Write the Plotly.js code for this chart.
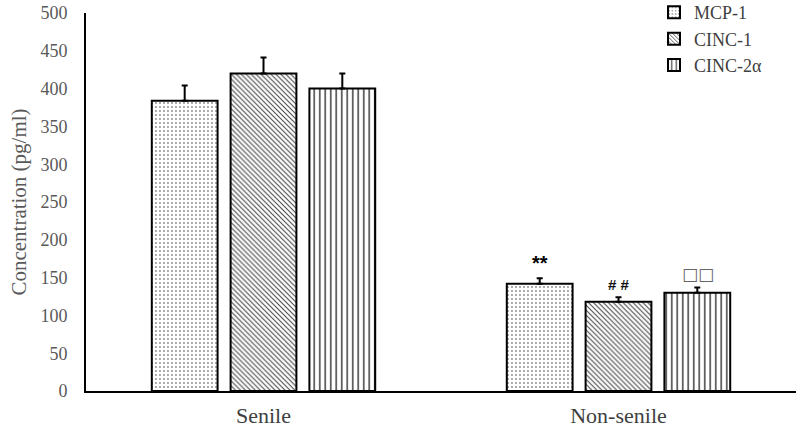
<!DOCTYPE html>
<html><head><meta charset="utf-8">
<script src="https://cdn.plot.ly/plotly-3.0.1.min.js"></script>
<style>html,body{margin:0;padding:0;background:#fff}#chart{width:796px;height:427px}</style>
</head><body><div id="chart"></div>
<script>
var categories = ['Senile', 'Non-senile'];
var seriesNames = ['MCP-1', 'CINC-1', 'CINC-2\u03b1'];
var mcp1 = [384, 142];
var cinc1 = [420, 118];
var cinc2a = [400, 130];
var mcp1Err = [20, 7];
var cinc1Err = [21, 6];
var cinc2aErr = [20, 7];
var sigMarks = ['**', '# #', '\u25a1\u25a1'];
var yTicks = [0, 50, 100, 150, 200, 250, 300, 350, 400, 450, 500];

var values = [mcp1, cinc1, cinc2a];
var errs = [mcp1Err, cinc1Err, cinc2aErr];
var shapes = ['.', '\\', '|'];
var psize = [4, 3.5, 5.5];
var psol = [0.18, 0.3, 0.28];
var pcol = ['#8a8a8a', '#444444', '#444444'];

var traces = values.map(function(v, i){
  return {
    type: 'bar', name: seriesNames[i], x: categories, y: v,
    marker: {color: '#ffffff', line: {color: '#000000', width: 2},
      pattern: {shape: shapes[i], fgcolor: pcol[i], bgcolor: '#ffffff', size: psize[i], solidity: psol[i]}},
    error_y: {type: 'data', symmetric: false, array: errs[i], arrayminus: [0, 0], color: '#000000', thickness: 2, width: 3}
  };
});

var slot = 79;
var markFont = [
  {family: 'Liberation Sans', size: 20, color: '#000000', weight: 'bold'},
  {family: 'Liberation Sans', size: 15, color: '#111111', weight: 'bold'},
  {family: 'DejaVu Sans', size: 17, color: '#666666'}
];
var markShift = [15, 13, 13];
var annotations = sigMarks.map(function(m, i){
  return {x: categories[1], y: values[i][1] + errs[i][1], xref: 'x', yref: 'y',
    text: m, showarrow: false, xshift: (i - 1) * slot, yshift: markShift[i], font: markFont[i]};
});

var layout = {
  width: 796, height: 427,
  margin: {l: 86, r: 0, t: 13, b: 36, autoexpand: false},
  paper_bgcolor: '#ffffff', plot_bgcolor: '#ffffff',
  barmode: 'group', bargap: 0.334, bargroupgap: 0.165,
  font: {family: 'Liberation Serif', color: '#595959', size: 18},
  showlegend: true,
  legend: {x: 0.80, xanchor: 'left', y: 1.05, yanchor: 'top', bgcolor: 'rgba(0,0,0,0)',
    font: {family: 'Liberation Serif', size: 18, color: '#404040'}, tracegroupgap: 0, itemwidth: 30},
  xaxis: {type: 'category', showline: true, linecolor: '#000000', linewidth: 2, ticks: '', showgrid: false,
    zeroline: false, tickfont: {family: 'Liberation Serif', size: 22, color: '#404040'}, ticklabelstandoff: 4},
  yaxis: {range: [0, 500], tickvals: yTicks, ticktext: yTicks.map(String), showline: true, linecolor: '#000000', linewidth: 2,
    ticks: '', showgrid: false, zeroline: false, ticklabelstandoff: 13,
    tickfont: {family: 'Liberation Serif', size: 18, color: '#595959'},
    title: {text: 'Concentration (pg/ml)', font: {family: 'Liberation Serif', size: 21, color: '#595959'}, standoff: 8}},
  annotations: annotations
};

Plotly.newPlot('chart', traces, layout, {displayModeBar: false, staticPlot: true});
</script></body></html>
